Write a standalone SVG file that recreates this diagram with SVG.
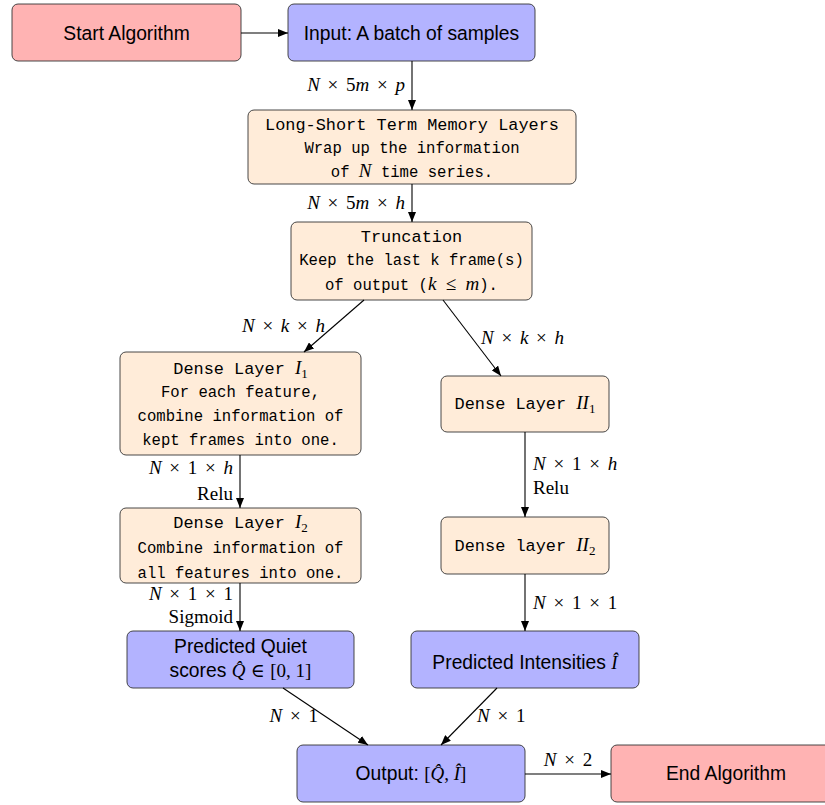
<svg xmlns="http://www.w3.org/2000/svg" width="825" height="805" viewBox="0 0 825 805">
<defs>
<marker id="ah" viewBox="0 0 10 8" refX="10" refY="4" markerWidth="10" markerHeight="8" markerUnits="userSpaceOnUse" orient="auto">
<path d="M0,0 L10,4 L0,8 Z" fill="#000"/>
</marker>
<style>
.red{fill:#ffb3b3;stroke:#333;stroke-width:0.9}
.blue{fill:#b3b3ff;stroke:#333;stroke-width:0.9}
.org{fill:#ffecd9;stroke:#333;stroke-width:0.9}
.sans{font-family:"Liberation Sans","DejaVu Sans",sans-serif;font-size:19.3px;fill:#000;text-anchor:middle}
.mt{font-family:"Liberation Mono","DejaVu Sans Mono",monospace;font-size:16.9px;fill:#000;text-anchor:middle}
.mb{font-family:"Liberation Mono","DejaVu Sans Mono",monospace;font-size:15.6px;fill:#000;text-anchor:middle}
.m{font-family:"Liberation Serif","DejaVu Serif",serif;font-size:19px;fill:#000}
.i{font-style:italic;font-family:"Liberation Serif","DejaVu Serif",serif}
.mf{font-family:"Liberation Serif","DejaVu Serif",serif}
.e{text-anchor:end}
.s{text-anchor:start}
.c{text-anchor:middle}
.sb{font-family:"Liberation Serif","DejaVu Serif",serif;font-size:13px;font-style:normal}
.edge{stroke:#000;stroke-width:1.1;fill:none;marker-end:url(#ah)}
</style>
</defs>
<g id="start"><rect class="red" x="12" y="4" width="229" height="57" rx="6"/><text class="sans" x="126.5" y="40">Start Algorithm</text></g>
<g id="input"><rect class="blue" x="288" y="4" width="247" height="57" rx="6"/><text class="sans" x="411.5" y="40">Input: A batch of samples</text></g>
<g id="lstm"><rect class="org" x="248" y="110" width="328" height="74" rx="6"/>
<text class="mt" x="412" y="130">Long-Short Term Memory Layers</text>
<text class="mb" x="412" y="153">Wrap up the information</text>
<text class="mb" x="412" y="177">of <tspan class="i" font-size="19px">N</tspan> time series.</text></g>
<g id="trunc"><rect class="org" x="291" y="222" width="241" height="78" rx="6"/>
<text class="mt" x="411.5" y="242">Truncation</text>
<text class="mb" x="411.5" y="265">Keep the last k frame(s)</text>
<text class="mb" x="411.5" y="290">of output (<tspan class="i" font-size="19px">k</tspan> <tspan class="mf" font-size="19px">≤</tspan> <tspan class="i" font-size="19px">m</tspan>).</text></g>
<g id="dense1"><rect class="org" x="120" y="352" width="241" height="103" rx="6"/>
<text class="mt" x="240.5" y="374">Dense Layer <tspan class="i" font-size="19px">I</tspan><tspan class="sb" dy="4">1</tspan></text>
<text class="mb" x="240.5" y="397">For each feature,</text>
<text class="mb" x="240.5" y="421">combine information of</text>
<text class="mb" x="240.5" y="445">kept frames into one.</text></g>
<g id="dense2"><rect class="org" x="120" y="508" width="241" height="75" rx="6"/>
<text class="mt" x="240.5" y="528">Dense Layer <tspan class="i" font-size="19px">I</tspan><tspan class="sb" dy="4">2</tspan></text>
<text class="mb" x="240.5" y="553">Combine information of</text>
<text class="mb" x="240.5" y="578">all features into one.</text></g>
<g id="denseII1"><rect class="org" x="441" y="376" width="168" height="56" rx="6"/>
<text class="mt" x="525" y="409">Dense Layer <tspan class="i" font-size="19px">II</tspan><tspan class="sb" dy="4">1</tspan></text></g>
<g id="denseII2"><rect class="org" x="441" y="517" width="168" height="57" rx="6"/>
<text class="mt" x="525" y="551">Dense layer <tspan class="i" font-size="19px">II</tspan><tspan class="sb" dy="4">2</tspan></text></g>
<g id="predQ"><rect class="blue" x="127" y="631" width="227" height="57" rx="6"/>
<text class="sans" x="240.5" y="653">Predicted Quiet</text>
<text class="sans" x="240.5" y="677">scores <tspan class="i" font-size="19px">Q̂</tspan> <tspan class="mf" font-size="19px">∈</tspan> <tspan class="mf" font-size="19px">[0, 1]</tspan></text></g>
<g id="predI"><rect class="blue" x="411" y="631" width="228" height="57" rx="6"/>
<text class="sans" x="525" y="669">Predicted Intensities <tspan class="i" font-size="19px">Î</tspan></text></g>
<g id="output"><rect class="blue" x="297" y="745" width="228" height="57" rx="6"/>
<text class="sans" x="411" y="780">Output: <tspan class="mf" font-size="19px">[<tspan class="i">Q̂</tspan>, <tspan class="i">Î</tspan>]</tspan></text></g>
<g id="end"><rect class="red" x="611" y="745" width="230" height="57" rx="6"/><text class="sans" x="726" y="780">End Algorithm</text></g>
<g id="connectors">
<line class="edge" x1="241" y1="33" x2="288" y2="33"/>
<line class="edge" x1="412" y1="61" x2="412" y2="110"/>
<line class="edge" x1="412" y1="184" x2="412" y2="222"/>
<line class="edge" x1="364" y1="300" x2="304" y2="352"/>
<line class="edge" x1="443" y1="300" x2="501" y2="376"/>
<line class="edge" x1="240" y1="455" x2="240" y2="508"/>
<line class="edge" x1="240" y1="583" x2="240" y2="631"/>
<line class="edge" x1="525" y1="432" x2="525" y2="517"/>
<line class="edge" x1="525" y1="574" x2="525" y2="631"/>
<line class="edge" x1="283" y1="688" x2="368" y2="745"/>
<line class="edge" x1="497" y1="688" x2="441" y2="745"/>
<line class="edge" x1="525" y1="774" x2="611" y2="774"/>
<text class="m e" x="405" y="91"><tspan class="i">N</tspan> <tspan dx="3">×</tspan> <tspan dx="3">5</tspan><tspan class="i">m</tspan> <tspan dx="3">×</tspan> <tspan dx="3" class="i">p</tspan></text>
<text class="m e" x="405" y="209"><tspan class="i">N</tspan> <tspan dx="3">×</tspan> <tspan dx="3">5</tspan><tspan class="i">m</tspan> <tspan dx="3">×</tspan> <tspan dx="3" class="i">h</tspan></text>
<text class="m e" x="325" y="332"><tspan class="i">N</tspan> <tspan dx="3">×</tspan> <tspan dx="3" class="i">k</tspan> <tspan dx="3">×</tspan> <tspan dx="3" class="i">h</tspan></text>
<text class="m s" x="481" y="344"><tspan class="i">N</tspan> <tspan dx="3">×</tspan> <tspan dx="3" class="i">k</tspan> <tspan dx="3">×</tspan> <tspan dx="3" class="i">h</tspan></text>
<text class="m e" x="233" y="474"><tspan class="i">N</tspan> <tspan dx="3">×</tspan> <tspan dx="3">1</tspan> <tspan dx="3">×</tspan> <tspan dx="3" class="i">h</tspan></text>
<text class="m e" x="233" y="500">Relu</text>
<text class="m e" x="233" y="600"><tspan class="i">N</tspan> <tspan dx="3">×</tspan> <tspan dx="3">1</tspan> <tspan dx="3">×</tspan> <tspan dx="3">1</tspan></text>
<text class="m e" x="233" y="623">Sigmoid</text>
<text class="m s" x="533" y="470"><tspan class="i">N</tspan> <tspan dx="3">×</tspan> <tspan dx="3">1</tspan> <tspan dx="3">×</tspan> <tspan dx="3" class="i">h</tspan></text>
<text class="m s" x="533" y="494">Relu</text>
<text class="m s" x="533" y="609"><tspan class="i">N</tspan> <tspan dx="3">×</tspan> <tspan dx="3">1</tspan> <tspan dx="3">×</tspan> <tspan dx="3">1</tspan></text>
<text class="m e" x="318" y="722"><tspan class="i">N</tspan> <tspan dx="3">×</tspan> <tspan dx="3">1</tspan></text>
<text class="m s" x="477" y="722"><tspan class="i">N</tspan> <tspan dx="3">×</tspan> <tspan dx="3">1</tspan></text>
<text class="m c" x="568" y="766"><tspan class="i">N</tspan> <tspan dx="3">×</tspan> <tspan dx="3">2</tspan></text>
</g>
</svg>
